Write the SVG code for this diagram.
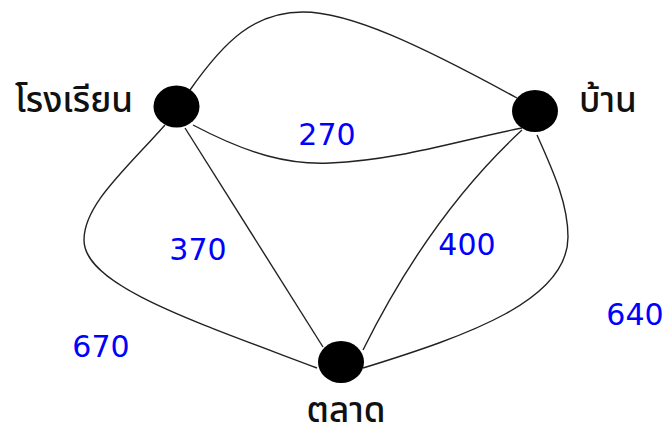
<svg xmlns="http://www.w3.org/2000/svg" width="670" height="430" viewBox="0 0 670 430">
<style>
.edge{fill:none;stroke:#222;stroke-width:1.4}
.node{fill:#000}
.w{font-family:"DejaVu Sans","Liberation Sans",sans-serif;font-size:30px;fill:#0000ff;text-anchor:middle}
.t{font-family:"Noto Sans Thai","Noto Sans","DejaVu Sans",sans-serif;font-size:35px;font-weight:500;fill:#111;text-anchor:middle}
</style>
<rect width="670" height="430" fill="#fff"/>
<g id="connectors">
<path class="edge" d="M190,90 C225,40 255,12 303,12 C350,12 420,45 517,98"/>
<path class="edge" d="M193,125 C250,155 290,165 330,163 C400,160 460,140 522,128"/>
<path class="edge" d="M185,128 L323,347"/>
<path class="edge" d="M522,130 Q430,215 363,350"/>
<path class="edge" d="M165,125 C125,170 84,205 84,240 C84,285 190,320 317,368"/>
<path class="edge" d="M537,135 C555,175 568,205 568,237 C568,300 470,335 363,368"/>
</g>
<g id="labels">
<text class="w" x="327" y="145">270</text>
<text class="w" x="198" y="260">370</text>
<text class="w" x="467" y="255">400</text>
<text class="w" x="101" y="357">670</text>
<text class="w" x="635" y="325">640</text>
</g>
<g id="school">
<ellipse class="node" cx="176.5" cy="106.5" rx="23" ry="21"/>
<text class="t" x="74" y="112">โรงเรียน</text>
</g>
<g id="home">
<ellipse class="node" cx="535" cy="111" rx="23" ry="21"/>
<text class="t" x="608" y="112">บ้าน</text>
</g>
<g id="market">
<ellipse class="node" cx="341" cy="362" rx="23" ry="21"/>
<text class="t" x="346" y="422">ตลาด</text>
</g>
</svg>
